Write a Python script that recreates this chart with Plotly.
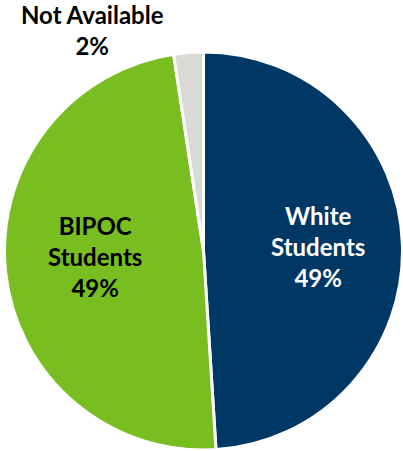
import plotly.graph_objects as go

categories = ["White Students", "BIPOC Students", "Not Available"]
shares = [49.0, 48.6, 2.4]
pct_labels = ["49%", "49%", "2%"]
label_lines = ["White<br>Students", "BIPOC<br>Students", "Not Available"]
colors = ["#003865", "#78BE21", "#D9D9D6"]
text_colors = ["#FFFFFF", "#000000", "#000000"]

W, H = 403, 451
cx, cy, r = 203.5, 251.0, 199.0

fig = go.Figure(go.Pie(
    labels=categories,
    values=shares,
    sort=False,
    direction="clockwise",
    rotation=0,
    marker=dict(colors=colors, line=dict(color="#FFFFFF", width=3)),
    textinfo="none",
    hoverinfo="label+percent",
    showlegend=False,
    domain=dict(x=[(cx - r) / W, (cx + r) / W],
                y=[(H - (cy + r)) / H, (H - (cy - r)) / H]),
))

label_pos = [(318, 246.5), (95, 256), (92, 30)]
for i, (px, py) in enumerate(label_pos):
    fig.add_annotation(
        x=px / W, y=1 - py / H, xref="paper", yref="paper",
        xanchor="center", yanchor="middle",
        text=f"<b>{label_lines[i]}<br>{pct_labels[i]}</b>",
        showarrow=False, align="center",
        font=dict(family="Lato", size=24, color=text_colors[i]),
    )

fig.update_layout(
    width=W, height=H,
    margin=dict(l=0, r=0, t=0, b=0),
    paper_bgcolor="#FFFFFF", plot_bgcolor="#FFFFFF",
)

fig.write_html(
    "out.html",
    config={"displayModeBar": False},
    post_script="document.body.style.margin='0px';document.body.style.overflow='hidden';",
)
